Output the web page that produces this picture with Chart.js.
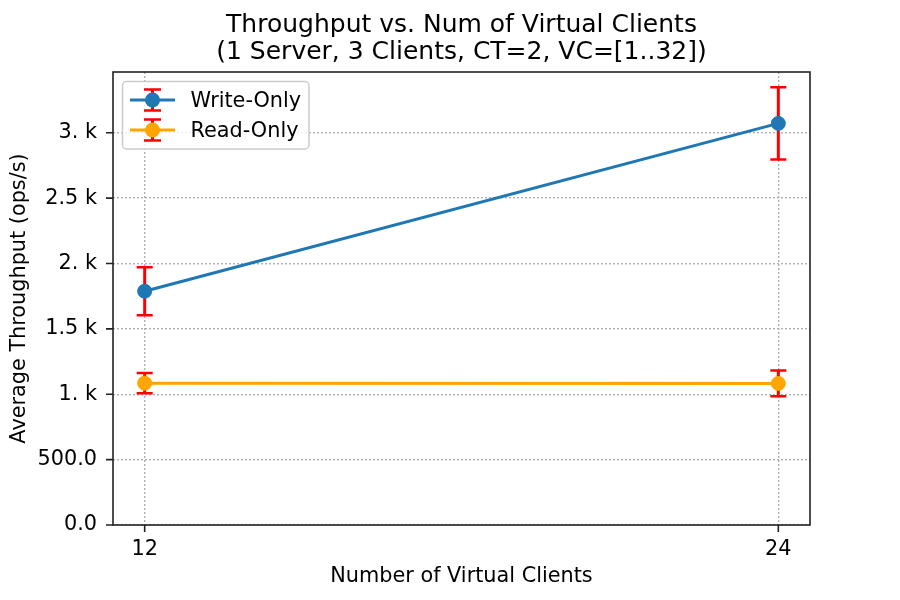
<!DOCTYPE html>
<html>
<head>
<meta charset="utf-8">
<script src="https://cdn.jsdelivr.net/npm/chart.js@4/dist/chart.umd.min.js"></script>
<style>
  html, body { margin: 0; padding: 0; background: #ffffff; }
  #wrap { width: 900px; height: 600px; }
</style>
</head>
<body>
<div id="wrap"><canvas id="c" width="900" height="600"></canvas></div>
<script>
// ---- data ----
const virtualClients = [12, 24];
const writeOnly = [1788, 3072];
const writeOnlyErr = [184, 277];
const readOnly = [1085, 1083];
const readOnlyErr = [77, 98];
const xTickValues = [12, 24];
const yTickValues = [0, 500, 1000, 1500, 2000, 2500, 3000];
const yTickLabels = ['0.0', '500.0', '1. k', '1.5 k', '2. k', '2.5 k', '3. k'];
const seriesNames = ['Write-Only', 'Read-Only'];
const seriesColors = ['#1f77b4', '#ffa500'];
const titleLines = ['Throughput vs. Num of Virtual Clients', '(1 Server, 3 Clients, CT=2, VC=[1..32])'];
const xAxisTitle = 'Number of Virtual Clients';
const yAxisTitle = 'Average Throughput (ops/s)';

const FONT = "'DejaVu Sans', sans-serif";
const ERR_COLOR = '#ff0000';
const FS = 20.8;

function pts(xs, ys) { return xs.map((x, i) => ({ x: x, y: ys[i] })); }

const errorBarPlugin = {
  id: 'errorBars',
  beforeDatasetsDraw(chart) {
    const ctx = chart.ctx;
    const xs = chart.scales.x, ys = chart.scales.y;
    ctx.save();
    chart.data.datasets.forEach(ds => {
      ds.data.forEach((p, i) => {
        const e = ds.errors[i];
        const px = xs.getPixelForValue(p.x);
        const top = ys.getPixelForValue(p.y + e);
        const bot = ys.getPixelForValue(p.y - e);
        ctx.strokeStyle = ERR_COLOR;
        ctx.lineWidth = 3;
        ctx.beginPath();
        ctx.moveTo(px, top); ctx.lineTo(px, bot);
        ctx.stroke();
        ctx.lineWidth = 2.5;
        ctx.beginPath();
        ctx.moveTo(px - 8, top); ctx.lineTo(px + 8, top);
        ctx.moveTo(px - 8, bot); ctx.lineTo(px + 8, bot);
        ctx.stroke();
      });
    });
    ctx.restore();
  }
};

const framePlugin = {
  id: 'frameAndLegend',
  afterDatasetsDraw(chart) {
    const ctx = chart.ctx;
    const a = chart.chartArea;
    const xs = chart.scales.x, ys = chart.scales.y;
    ctx.save();
    // frame
    ctx.strokeStyle = '#222222';
    ctx.lineWidth = 1.6;
    ctx.strokeRect(a.left, a.top, a.right - a.left, a.bottom - a.top);
    // tick marks
    ctx.beginPath();
    xs.ticks.forEach(t => {
      const px = xs.getPixelForValue(t.value);
      ctx.moveTo(px, a.bottom); ctx.lineTo(px, a.bottom + 7);
    });
    ys.ticks.forEach(t => {
      const py = ys.getPixelForValue(t.value);
      ctx.moveTo(a.left, py); ctx.lineTo(a.left - 7, py);
    });
    ctx.stroke();

    // legend
    const lx = 122.5, ly = 81.5, lw = 186.5, lh = 67.5, r = 4;
    ctx.beginPath();
    ctx.moveTo(lx + r, ly);
    ctx.lineTo(lx + lw - r, ly);
    ctx.arcTo(lx + lw, ly, lx + lw, ly + r, r);
    ctx.lineTo(lx + lw, ly + lh - r);
    ctx.arcTo(lx + lw, ly + lh, lx + lw - r, ly + lh, r);
    ctx.lineTo(lx + r, ly + lh);
    ctx.arcTo(lx, ly + lh, lx, ly + lh - r, r);
    ctx.lineTo(lx, ly + r);
    ctx.arcTo(lx, ly, lx + r, ly, r);
    ctx.closePath();
    ctx.fillStyle = 'rgba(255,255,255,0.8)';
    ctx.fill();
    ctx.strokeStyle = '#cccccc';
    ctx.lineWidth = 1.5;
    ctx.stroke();

    chart.data.datasets.forEach((ds, i) => {
      const cy = 100 + i * 30;
      ctx.strokeStyle = ds.borderColor;
      ctx.lineWidth = 3;
      ctx.beginPath();
      ctx.moveTo(130, cy); ctx.lineTo(175, cy);
      ctx.stroke();
      ctx.strokeStyle = ERR_COLOR;
      ctx.lineWidth = 3;
      ctx.beginPath();
      ctx.moveTo(152.5, cy - 10.5); ctx.lineTo(152.5, cy + 10.5);
      ctx.stroke();
      ctx.lineWidth = 2.5;
      ctx.beginPath();
      ctx.moveTo(144, cy - 10.5); ctx.lineTo(161, cy - 10.5);
      ctx.moveTo(144, cy + 10.5); ctx.lineTo(161, cy + 10.5);
      ctx.stroke();
      ctx.fillStyle = ds.backgroundColor;
      ctx.beginPath();
      ctx.arc(152.5, cy, 7.5, 0, Math.PI * 2);
      ctx.fill();
      ctx.fillStyle = '#000000';
      ctx.font = FS + 'px ' + FONT;
      ctx.textAlign = 'left';
      ctx.textBaseline = 'alphabetic';
      ctx.fillText(ds.label, 190.5, cy + 7);
    });
    ctx.restore();
  }
};

const datasets = [
  { label: seriesNames[0], data: pts(virtualClients, writeOnly), errors: writeOnlyErr, color: seriesColors[0] },
  { label: seriesNames[1], data: pts(virtualClients, readOnly), errors: readOnlyErr, color: seriesColors[1] }
].map(d => ({
  label: d.label,
  data: d.data,
  errors: d.errors,
  borderColor: d.color,
  backgroundColor: d.color,
  pointBackgroundColor: d.color,
  pointBorderColor: d.color,
  borderWidth: 3,
  pointRadius: 7,
  pointBorderWidth: 1,
  pointHoverRadius: 7,
  showLine: true,
  fill: false,
  tension: 0
}));

new Chart(document.getElementById('c'), {
  type: 'scatter',
  data: { datasets: datasets },
  options: {
    responsive: false,
    animation: false,
    devicePixelRatio: 1,
    events: [],
    layout: { padding: { left: 0, right: 90, top: 0, bottom: 0 } },
    plugins: {
      legend: { display: false },
      tooltip: { enabled: false },
      title: {
        display: true,
        text: titleLines,
        fullSize: false,
        color: '#000000',
        font: { family: FONT, size: 25, weight: 'normal', lineHeight: 1.08 },
        padding: { top: 12, bottom: 6 }
      }
    },
    scales: {
      x: {
        type: 'linear',
        min: 11.4,
        max: 24.6,
        afterBuildTicks(scale) { scale.ticks = xTickValues.map(v => ({ value: v })); },
        afterFit(scale) { scale.height = 75; },
        ticks: {
          color: '#000000',
          font: { family: FONT, size: FS },
          padding: 12,
          maxRotation: 0,
          callback: v => String(v)
        },
        grid: { color: '#b0b0b0', lineWidth: 1.4, drawTicks: false },
        border: { display: false, dash: [2, 2] },
        title: {
          display: true,
          text: xAxisTitle,
          color: '#000000',
          font: { family: FONT, size: FS, lineHeight: 1.2 },
          padding: { top: 0, bottom: 10.5 }
        }
      },
      y: {
        type: 'linear',
        min: 0,
        max: 3465,
        afterBuildTicks(scale) { scale.ticks = yTickValues.map(v => ({ value: v })); },
        afterFit(scale) { scale.width = 113; },
        ticks: {
          color: '#000000',
          font: { family: FONT, size: FS },
          padding: 16,
          callback: (v) => { const i = yTickValues.indexOf(v); return i >= 0 ? yTickLabels[i] : ''; }
        },
        grid: { color: '#b0b0b0', lineWidth: 1.4, drawTicks: false },
        border: { display: false, dash: [2, 2] },
        title: {
          display: true,
          text: yAxisTitle,
          color: '#000000',
          font: { family: FONT, size: FS, lineHeight: 1.2 },
          padding: { top: 7, bottom: 0 }
        }
      }
    }
  },
  plugins: [errorBarPlugin, framePlugin]
});
</script>
</body>
</html>
